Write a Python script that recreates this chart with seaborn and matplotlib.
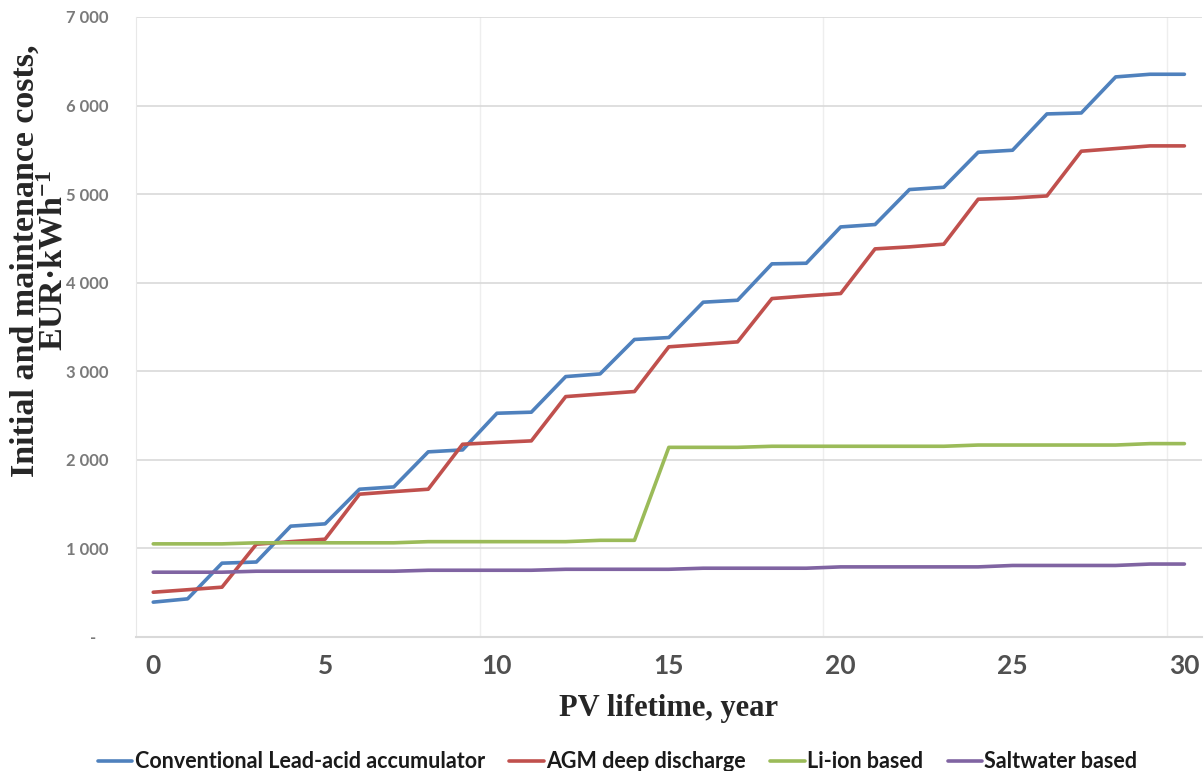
import numpy as np
import pandas as pd
import matplotlib
matplotlib.use('Agg')
import matplotlib.pyplot as plt
from matplotlib.ticker import FuncFormatter
import seaborn as sns

# values
years = list(range(31))
lead_acid = [392, 429, 832, 845, 1250, 1276, 1667, 1693, 2089, 2111, 2525, 2537,
             2939, 2969, 3358, 3380, 3779, 3801, 4212, 4219, 4629, 4656, 5051,
             5077, 5472, 5495, 5905, 5916, 6323, 6353, 6353]
agm = [504, 532, 561, 1046, 1075, 1103, 1611, 1640, 1667, 2175, 2195, 2213,
       2713, 2742, 2770, 3275, 3303, 3331, 3820, 3850, 3877, 4381, 4404, 4434,
       4942, 4955, 4979, 5484, 5514, 5544, 5544]
li_ion = [1050, 1050, 1050, 1062, 1062, 1062, 1062, 1062, 1075, 1075, 1075,
          1075, 1075, 1090, 1090, 2140, 2140, 2140, 2152, 2152, 2152, 2152,
          2152, 2152, 2166, 2166, 2166, 2166, 2166, 2182, 2182]
saltwater = [730, 730, 730, 741, 741, 741, 741, 741, 752, 752, 752, 752, 763,
             763, 763, 763, 775, 775, 775, 775, 790, 790, 790, 790, 790, 806,
             806, 806, 806, 822, 822]
series_names = ['Conventional Lead-acid accumulator', 'AGM deep discharge',
                'Li-ion based', 'Saltwater based']
colors = ['#4F81BD', '#C0504D', '#9BBB59', '#8064A2']

df = pd.concat([
    pd.DataFrame({'year': years, 'cost': vals, 'series': name})
    for name, vals in zip(series_names, [lead_acid, agm, li_ion, saltwater])
])

sns.set_style('white')
plt.rcParams['font.family'] = ['Lato', 'DejaVu Sans']
plt.rcParams['mathtext.fontset'] = 'custom'
plt.rcParams['mathtext.rm'] = 'Liberation Serif:bold'
plt.rcParams['mathtext.it'] = 'Liberation Serif:bold'
plt.rcParams['mathtext.bf'] = 'Liberation Serif:bold'

fig = plt.figure(figsize=(12.04, 7.71), dpi=100)
ax = fig.add_axes([0.113, 0.174, 0.885, 0.804])

sns.lineplot(data=df, x='year', y='cost', hue='series', palette=colors,
             hue_order=series_names, linewidth=2.6, ax=ax)

ax.set_xlim(-0.5, 30.5)
ax.set_ylim(0, 7000)
ax.set_yticks(range(0, 7001, 1000))
ax.set_xticks(range(0, 31, 5))
ax.yaxis.set_major_formatter(FuncFormatter(
    lambda v, p: '-   ' if v == 0 else f'{int(v):,}'.replace(',', ' ')))

ax.grid(axis='y', color='#D9D9D9', linewidth=1.2)
for xv in [9.5, 19.5, 29.5]:
    ax.axvline(xv, color='#EEEEEE', linewidth=1.0, zorder=0)
ax.set_axisbelow(True)
for s in ['top', 'right']:
    ax.spines[s].set_visible(False)
ax.spines['bottom'].set_color('#D9D9D9')
ax.spines['bottom'].set_linewidth(1.5)
ax.spines['left'].set_color('#E8E8E8')

ax.tick_params(axis='y', length=0, pad=20, labelsize=12, labelcolor='#7A7A7A')
ax.tick_params(axis='x', length=0, pad=12, labelsize=19, labelcolor='#505050')
for lab in ax.get_xticklabels() + ax.get_yticklabels():
    lab.set_fontweight('bold')

ax.set_xlabel('PV lifetime, year', fontfamily='Liberation Serif',
              fontweight='bold', fontsize=22, labelpad=12)
ax.set_ylabel('')
fig.text(0.033, 1 - 261 / 771,
         'Initial and maintenance costs,\nEUR·kWh$^{-1}$',
         rotation=90, ha='center', va='center', multialignment='center',
         fontfamily='Liberation Serif', fontweight='bold', fontsize=24.5,
         linespacing=0.92)

handles, labels = ax.get_legend_handles_labels()
ax.get_legend().remove()
leg = fig.legend(handles, labels, loc='lower center', bbox_to_anchor=(0.513, -0.027),
                 ncol=4, frameon=False, handlelength=1.6, handletextpad=0.1,
                 columnspacing=1.15,
                 prop={'family': 'Lato', 'weight': 'bold', 'size': 15.5})
for t in leg.get_texts():
    t.set_color('#1a1a1a')

fig.savefig('out.png', dpi=100)
